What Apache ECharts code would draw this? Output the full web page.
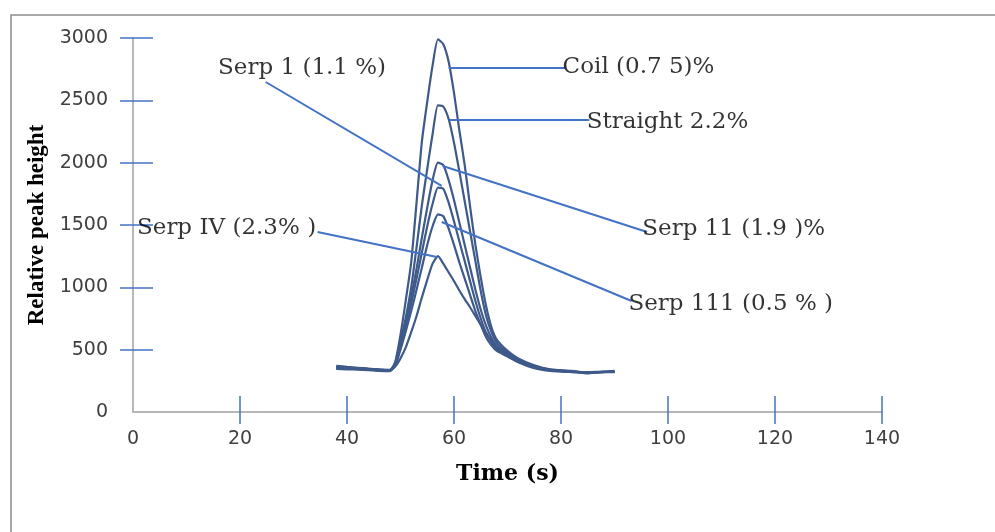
<!DOCTYPE html>
<html>
<head>
<meta charset="utf-8">
<script src="https://cdn.jsdelivr.net/npm/echarts@6/dist/echarts.min.js"></script>
<style>
  html, body { margin: 0; padding: 0; background: #fff; }
  #chart { width: 995px; height: 532px; }
</style>
</head>
<body>
<div id="chart"></div>
<script>
// time axis (s) shared by every trace
const timeS = [38, 40, 42, 44, 46, 48, 49, 50, 51, 52, 53, 54, 55, 56, 57, 58, 59, 60, 61, 62, 63, 64, 65, 66, 67, 68, 70, 72, 75, 78, 82, 85, 87, 90]

// relative peak height
const coil = [360, 355, 350, 345, 338, 335, 400, 620, 900, 1200, 1680, 2170, 2490, 2780, 2990, 2950, 2810, 2560, 2260, 1980, 1650, 1340, 1080, 850, 680, 580, 490, 430, 375, 342, 330, 310, 320, 330]
const straight = [355, 350, 348, 342, 336, 332, 390, 570, 760, 1000, 1320, 1660, 1950, 2230, 2460, 2450, 2350, 2160, 1930, 1690, 1450, 1210, 970, 770, 640, 555, 475, 420, 368, 340, 325, 315, 320, 325]
const serp2 = [350, 348, 345, 340, 334, 330, 380, 540, 720, 920, 1150, 1400, 1640, 1860, 2000, 1980, 1860, 1700, 1520, 1340, 1160, 980, 820, 690, 595, 530, 465, 410, 362, 336, 325, 320, 322, 325]
const serp1 = [365, 358, 352, 346, 340, 334, 375, 520, 690, 870, 1070, 1280, 1490, 1670, 1800, 1790, 1680, 1530, 1370, 1210, 1050, 890, 750, 635, 560, 505, 455, 405, 358, 335, 322, 318, 320, 322]
const serp3 = [345, 342, 340, 336, 330, 328, 370, 500, 650, 810, 980, 1160, 1340, 1490, 1585, 1570, 1470, 1340, 1200, 1070, 940, 810, 700, 600, 535, 490, 445, 400, 352, 330, 320, 315, 318, 320]
const serp4 = [370, 362, 355, 348, 342, 338, 365, 430, 520, 640, 770, 920, 1060, 1190, 1250, 1190, 1120, 1050, 975, 905, 840, 770, 700, 635, 570, 515, 455, 405, 360, 336, 324, 318, 320, 322]

const xTicks = [20, 40, 60, 80, 100, 120, 140]
const yTicks = [500, 1000, 1500, 2000, 2500, 3000]

// callout texts and where they sit (data units)
const calloutNames = ['Coil (0.7 5)%', 'Straight 2.2%', 'Serp 1 (1.1 %)', 'Serp 11 (1.9 )%', 'Serp 111 (0.5 % )', 'Serp IV (2.3% )']
const calloutText = [[80.3, 2767], [84.8, 2326], [15.9, 2759], [95.2, 1467], [92.6, 866], [0.75, 1475]]
const calloutLines = [
  [[59.0, 2759], [80.8, 2759]],
  [[59.2, 2342], [85.3, 2342]],
  [[24.8, 2647], [57.7, 1813]],
  [[57.9, 1973], [96.1, 1444]],
  [[57.7, 1524], [93.2, 890]],
  [[34.5, 1444], [56.8, 1243]]
]

const traces = [coil, straight, serp2, serp1, serp3, serp4]
const tickBlue = '#4472C4'
const axisGray = '#b8b8b8'
const labelFont = { fontFamily: 'DejaVu Sans', fontSize: 19, color: '#404040' }

const chart = echarts.init(document.getElementById('chart'))

const series = traces.map(t => ({
  type: 'line',
  data: timeS.map((x, i) => [x, t[i]]),
  symbol: 'none',
  smooth: 0.2,
  silent: true,
  lineStyle: { color: '#3e5a8a', width: 2.2 }
}))

series.push({
  type: 'lines',
  coordinateSystem: 'cartesian2d',
  silent: true,
  z: 5,
  lineStyle: { color: tickBlue, width: 2, opacity: 1 },
  data: calloutLines.map(c => ({ coords: c }))
})

series.push({
  type: 'scatter',
  symbolSize: 0,
  silent: true,
  z: 6,
  data: calloutText.map((p, i) => ({ value: p, name: calloutNames[i] })),
  label: {
    show: true,
    position: 'right',
    distance: 0,
    formatter: '{b}',
    fontFamily: 'DejaVu Serif',
    fontSize: 23,
    color: '#000'
  }
})

chart.setOption({
  animation: false,
  graphic: [{
    type: 'rect',
    shape: { x: 11, y: 15, width: 1000, height: 600 },
    style: { fill: 'none', stroke: '#8c8c8c', lineWidth: 1.5 },
    silent: true
  }],
  grid: { left: 133, top: 38, right: 113, bottom: 120 },
  xAxis: [
    {
      type: 'value',
      min: 0,
      max: 140,
      interval: 20,
      name: 'Time (s)',
      nameLocation: 'middle',
      nameGap: 51,
      nameTextStyle: { fontFamily: 'DejaVu Serif', fontWeight: 'bold', fontSize: 22, color: '#000' },
      axisLine: { lineStyle: { color: axisGray, width: 2 } },
      axisTick: { show: true, length: 12, customValues: xTicks, lineStyle: { color: tickBlue, width: 1.5 } },
      axisLabel: { margin: 18, ...labelFont },
      splitLine: { show: false }
    },
    {
      type: 'value',
      min: 0,
      max: 140,
      interval: 20,
      position: 'bottom',
      axisLine: { show: false },
      axisTick: { show: true, inside: true, length: 16, customValues: xTicks, lineStyle: { color: tickBlue, width: 1.5 } },
      axisLabel: { show: false },
      splitLine: { show: false }
    }
  ],
  yAxis: [
    {
      type: 'value',
      min: 0,
      max: 3000,
      interval: 500,
      name: 'Relative peak height',
      nameLocation: 'middle',
      nameGap: 78,
      nameTextStyle: { fontFamily: 'Liberation Serif', fontWeight: 'bold', fontSize: 23, color: '#000' },
      axisLine: { show: true, lineStyle: { color: axisGray, width: 2 } },
      axisTick: { show: true, length: 13, customValues: yTicks, lineStyle: { color: tickBlue, width: 1.5 } },
      axisLabel: { margin: 25, formatter: v => String(v), ...labelFont },
      splitLine: { show: false }
    },
    {
      type: 'value',
      min: 0,
      max: 3000,
      interval: 500,
      position: 'left',
      axisLine: { show: false },
      axisTick: { show: true, inside: true, length: 20, customValues: yTicks, lineStyle: { color: tickBlue, width: 1.5 } },
      axisLabel: { show: false },
      splitLine: { show: false }
    }
  ],
  series: series
})
</script>
</body>
</html>
